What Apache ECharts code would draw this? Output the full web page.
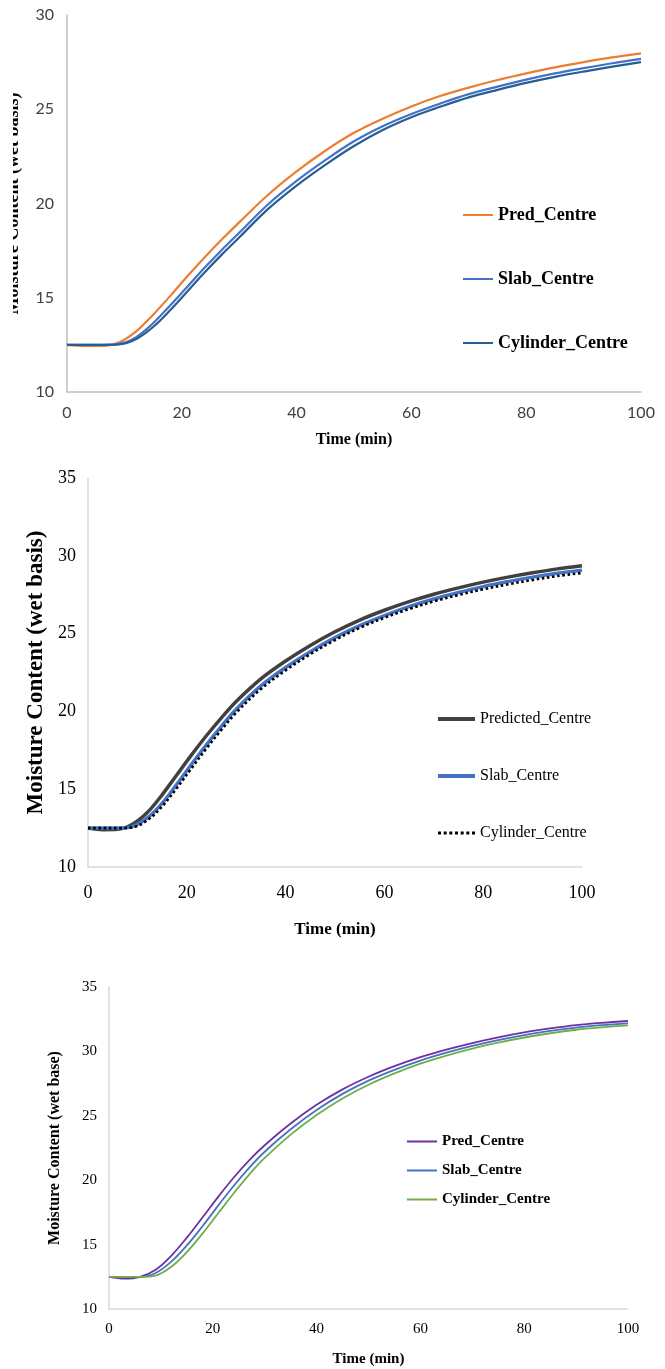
<!DOCTYPE html>
<html>
<head>
<meta charset="utf-8">
<script src="https://cdn.jsdelivr.net/npm/echarts@6/dist/echarts.min.js"></script>
<style>
html,body{margin:0;padding:0;background:#fff;}
#wrap{position:relative;width:665px;height:1369px;}
.c{position:absolute;left:0;width:665px;}
</style>
</head>
<body>
<div id="wrap">
  <div id="c1" class="c" style="top:0;height:460px;"></div>
  <div id="c2" class="c" style="top:460px;height:490px;"></div>
  <div id="c3" class="c" style="top:950px;height:419px;"></div>
</div>
<script>
// ---- data ----
const time = [0,3,6,9,12,15,18,21,24,27,30,35,40,45,50,55,60,65,70,75,80,85,90,95,100];
const xTicks = [0,20,40,60,80,100];

// Chart 1
const c1Names = ['Pred_Centre','Slab_Centre','Cylinder_Centre'];
const c1Pred = [12.5,12.44,12.45,12.62,13.2,14.1,15.1,16.15,17.15,18.1,19.0,20.45,21.7,22.8,23.75,24.5,25.15,25.7,26.15,26.55,26.9,27.22,27.5,27.75,27.96];
const c1Slab = [12.5,12.5,12.5,12.55,12.9,13.65,14.6,15.6,16.6,17.55,18.45,19.95,21.2,22.3,23.3,24.1,24.75,25.3,25.8,26.2,26.57,26.9,27.18,27.44,27.67];
const c1Cyl  = [12.5,12.5,12.5,12.52,12.8,13.45,14.35,15.35,16.35,17.3,18.2,19.7,20.95,22.05,23.05,23.9,24.58,25.13,25.63,26.03,26.4,26.72,27.0,27.26,27.5];

// Chart 2
const c2Names = ['Predicted_Centre','Slab_Centre','Cylinder_Centre'];
const c2Pred = [12.5,12.4,12.42,12.75,13.5,14.64,15.93,17.22,18.45,19.59,20.64,22.09,23.24,24.24,25.12,25.87,26.5,27.05,27.53,27.94,28.31,28.63,28.91,29.16,29.36];
const c2Slab = [12.5,12.5,12.5,12.6,13.15,14.09,15.33,16.62,17.87,19.04,20.14,21.64,22.82,23.84,24.74,25.51,26.16,26.73,27.22,27.64,28.02,28.34,28.63,28.88,29.08];
const c2Cyl  = [12.5,12.5,12.5,12.55,13.0,13.89,15.08,16.37,17.63,18.81,19.92,21.44,22.64,23.68,24.59,25.37,26.02,26.58,27.07,27.48,27.85,28.17,28.45,28.7,28.9];

// Chart 3
const c3Names = ['Pred_Centre','Slab_Centre','Cylinder_Centre'];
const c3Pred = [12.5,12.36,12.5,13.05,14.13,15.54,17.1,18.69,20.19,21.54,22.71,24.4,25.85,27.05,28.03,28.85,29.55,30.14,30.65,31.09,31.47,31.78,32.04,32.22,32.36];
const c3Slab = [12.5,12.5,12.5,12.8,13.68,14.94,16.42,18.01,19.55,20.96,22.21,23.95,25.45,26.7,27.73,28.57,29.29,29.9,30.43,30.88,31.27,31.59,31.85,32.04,32.18];
const c3Cyl  = [12.5,12.5,12.5,12.6,13.28,14.42,15.85,17.41,18.97,20.44,21.73,23.54,25.07,26.35,27.41,28.29,29.05,29.68,30.22,30.68,31.08,31.41,31.68,31.87,32.02];

const pairs = v => time.map((t,i)=>[t,v[i]]);
const SERIF = '"Liberation Serif","Times New Roman",serif';
const DOTS = 'path://M0 0h3v3h-3zM5.67 0h3v3h-3zM11.33 0h3v3h-3zM17 0h3v3h-3zM22.67 0h3v3h-3zM28.33 0h3v3h-3zM34 0h3v3h-3z';

function lineSeries(name, vals, color, width, type){
  return {type:'line', name:name, data:pairs(vals), showSymbol:false, symbol:'none',
    smooth:0.35, animation:false,
    lineStyle:{color:color, width:width, type:type||'solid', cap:'butt'},
    itemStyle:{color:color}};
}
function legends(names, left, tops, width, lineH, font, icons){
  return names.map((n,i)=>({
    data:[{name:n, icon:(icons && icons[i]) || 'rect'}], left:left, top:tops[i], orient:'vertical', padding:0,
    itemWidth:width, itemHeight:(icons && icons[i]) ? 3 : lineH, selectedMode:false, symbolKeepAspect:false,
    textStyle:{fontFamily:SERIF, fontSize:font.size, fontWeight:font.weight, color:'#000'}
  }));
}

// ---- chart 1 ----
echarts.init(document.getElementById('c1')).setOption({
  animation:false,
  grid:{left:67, top:15, width:574, height:377, outerBoundsMode:'none', containLabel:false},
  xAxis:{type:'value', min:0, max:100, interval:20,
    axisLine:{lineStyle:{color:'#BFBFBF', width:1.5}}, axisTick:{show:false}, splitLine:{show:false},
    axisLabel:{margin:13, fontFamily:'Lato', fontSize:16, color:'#404040'},
    name:'Time (min)', nameLocation:'middle', nameGap:40,
    nameTextStyle:{fontFamily:SERIF, fontSize:16, fontWeight:'bold', color:'#000'}},
  yAxis:{type:'value', min:10, max:30, interval:5,
    axisLine:{show:true, lineStyle:{color:'#BFBFBF', width:1.5}}, axisTick:{show:false}, splitLine:{show:false},
    axisLabel:{margin:13, fontFamily:'Lato', fontSize:16, color:'#404040'},
    name:'Moisture Content (wet basis)', nameLocation:'middle', nameGap:45,
    nameTextStyle:{fontFamily:SERIF, fontSize:18, fontWeight:'bold', color:'#000'}},
  legend: legends(c1Names, 463, [206,270,334], 30, 2, {size:18, weight:'bold'}),
  graphic:[{type:'rect', left:0, top:60, z:100, shape:{width:13, height:290}, style:{fill:'#fff'}}],
  series:[
    lineSeries(c1Names[0], c1Pred, '#ED7D31', 2.2),
    lineSeries(c1Names[1], c1Slab, '#4472C4', 2.2),
    lineSeries(c1Names[2], c1Cyl, '#255E91', 2.2)
  ]
});

// ---- chart 2 ----
echarts.init(document.getElementById('c2')).setOption({
  animation:false,
  grid:{left:88, top:18, width:494, height:389, outerBoundsMode:'none', containLabel:false},
  xAxis:{type:'value', min:0, max:100, interval:20,
    axisLine:{lineStyle:{color:'#D9D9D9', width:1.5}}, axisTick:{show:false}, splitLine:{show:false},
    axisLabel:{margin:17, fontFamily:SERIF, fontSize:18, color:'#000'},
    name:'Time (min)', nameLocation:'middle', nameGap:54,
    nameTextStyle:{fontFamily:SERIF, fontSize:17, fontWeight:'bold', color:'#000'}},
  yAxis:{type:'value', min:10, max:35, interval:5,
    axisLine:{show:true, lineStyle:{color:'#D9D9D9', width:1.5}}, axisTick:{show:false}, splitLine:{show:false},
    axisLabel:{margin:12, fontFamily:SERIF, fontSize:18, color:'#000'},
    name:'Moisture Content (wet basis)', nameLocation:'middle', nameGap:33,
    nameTextStyle:{fontFamily:SERIF, fontSize:23, fontWeight:'bold', color:'#000'}},
  legend: legends(c2Names, 438, [251,308,365], 37, 4, {size:16, weight:'normal'}, [null,null,DOTS]),
  series:[
    lineSeries(c2Names[0], c2Pred, '#404040', 3.5),
    lineSeries(c2Names[1], c2Slab, '#4472C4', 3.5),
    lineSeries(c2Names[2], c2Cyl, '#000000', 2.6, [2.6,2.6])
  ]
});

// ---- chart 3 ----
echarts.init(document.getElementById('c3')).setOption({
  animation:false,
  grid:{left:109, top:37, width:519, height:322, outerBoundsMode:'none', containLabel:false},
  xAxis:{type:'value', min:0, max:100, interval:20,
    axisLine:{lineStyle:{color:'#D9D9D9', width:1.5}}, axisTick:{show:false}, splitLine:{show:false},
    axisLabel:{margin:13, fontFamily:SERIF, fontSize:15, color:'#000'},
    name:'Time (min)', nameLocation:'middle', nameGap:43,
    nameTextStyle:{fontFamily:SERIF, fontSize:15, fontWeight:'bold', color:'#000'}},
  yAxis:{type:'value', min:10, max:35, interval:5,
    axisLine:{show:true, lineStyle:{color:'#D9D9D9', width:1.5}}, axisTick:{show:false}, splitLine:{show:false},
    axisLabel:{margin:12, fontFamily:SERIF, fontSize:15, color:'#000'},
    name:'Moisture Content (wet base)', nameLocation:'middle', nameGap:46,
    nameTextStyle:{fontFamily:SERIF, fontSize:16, fontWeight:'bold', color:'#000'}},
  legend: legends(c3Names, 407, [184,213,242], 30, 2, {size:15, weight:'bold'}),
  series:[
    lineSeries(c3Names[0], c3Pred, '#7030A0', 1.8),
    lineSeries(c3Names[1], c3Slab, '#4472C4', 1.8),
    lineSeries(c3Names[2], c3Cyl, '#70AD47', 1.8)
  ]
});
</script>
</body>
</html>
